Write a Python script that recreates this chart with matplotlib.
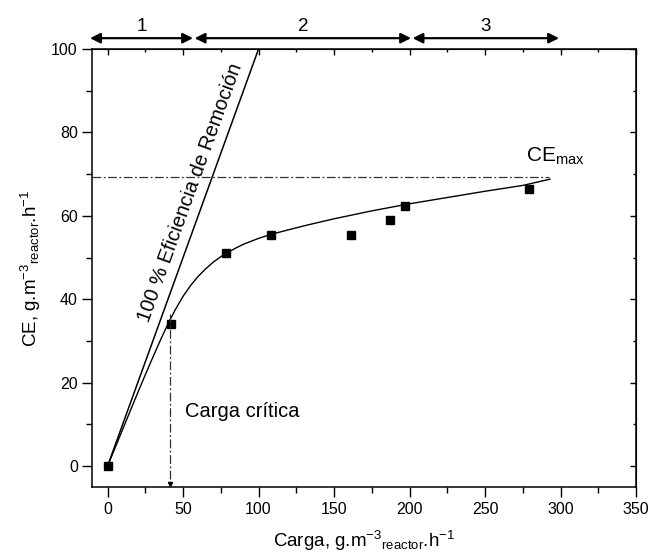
import numpy as np
import matplotlib
matplotlib.use("Agg")
import matplotlib.pyplot as plt

plt.rcParams['font.family'] = ['Liberation Sans', 'DejaVu Sans']
plt.rcParams['mathtext.fontset'] = 'custom'
plt.rcParams['mathtext.rm'] = 'Liberation Sans'
plt.rcParams['mathtext.it'] = 'Liberation Sans:italic'

# measured points
carga = [0, 42.3, 78.7, 108.5, 161, 187, 197, 279]
ce = [0, 34.0, 51.2, 55.4, 55.3, 59.0, 62.4, 66.5]

# fitted curve, read along its path
curva_x = [0, 10, 20, 25, 30, 35, 40, 45, 50, 55, 60, 65, 70, 75, 79, 85, 90, 100,
           108.5, 130, 150, 175, 200, 225, 250, 275, 293]
curva_y = [0, 8.8, 17.6, 21.9, 26.1, 30.2, 34.1, 37.6, 40.7, 43.3, 45.5, 47.3, 48.9, 50.2,
           51.1, 52.3, 53.2, 54.6, 55.6, 57.6, 59.3, 61.2, 62.9, 64.4, 65.9, 67.3, 68.8]

# 100 % removal line
ref_x = [0, 100]
ref_y = [0, 100]

ce_max = 69.4
ce_max_fin = 292.5
carga_critica = 41.2

zonas = [(-11.6, 56.6, '1'), (57.7, 201, '2'), (202, 299, '3')]

fig = plt.figure(figsize=(6.51, 5.59), dpi=100)
ax = fig.add_axes([0.142, 0.1288, 0.835, 0.7835])

ax.plot(ref_x, ref_y, color='k', lw=1.1)
ax.plot(curva_x, curva_y, color='k', lw=1.0)
ax.plot(carga, ce, 's', color='k', ms=6)

dashdot = (0, (7, 2, 1.5, 2))
ax.plot([-10, ce_max_fin], [ce_max, ce_max], color='#333333', lw=0.9, ls=dashdot)
ax.plot([carga_critica, carga_critica], [36.5, -4.5], color='#333333', lw=0.9, ls=dashdot)
ax.plot([carga_critica], [-4.2], marker='v', color='k', ms=3)

ax.text(54.6, 65.5, '100 % Eficiencia de Remoción', rotation=70.1, fontsize=14.5,
        ha='center', va='center', rotation_mode='anchor')
ax.text(51, 13, 'Carga crítica', fontsize=14.5, ha='left', va='center')
ax.text(277, 74.3, r'CE$_{\mathrm{max}}$', fontsize=15, ha='left', va='center')

for x0, x1, lab in zonas:
    ax.annotate('', xy=(x1, 102.6), xytext=(x0, 102.6), annotation_clip=False,
                arrowprops=dict(arrowstyle='<|-|>', color='k', lw=1.6, mutation_scale=15,
                                shrinkA=0, shrinkB=0))
    ax.text((x0 + x1) / 2, 103.4, lab, fontsize=13.5, ha='center', va='bottom')

ax.set_xlim(-10, 350)
ax.set_ylim(-5, 100)
ax.set_xticks(np.arange(0, 351, 50))
ax.set_xticks(np.arange(25, 351, 50), minor=True)
ax.set_yticks(np.arange(0, 101, 20))
ax.set_yticks(np.arange(10, 101, 20), minor=True)
ax.tick_params(which='both', direction='out', labelsize=11.5, width=1.0, top=False, right=False)
ax.tick_params(which='major', length=7)
ax.tick_params(which='minor', length=4)
for s in ax.spines.values():
    s.set_linewidth(1.1)

# inward ticks on the top and right frame
sec_x = ax.secondary_xaxis('top')
sec_x.set_xticks(np.arange(0, 351, 50))
sec_x.set_xticks(np.arange(25, 351, 50), minor=True)
sec_x.tick_params(which='both', direction='in', labeltop=False, width=1.0)
sec_x.tick_params(which='major', length=4)
sec_x.tick_params(which='minor', length=2.5)
sec_y = ax.secondary_yaxis('right')
sec_y.set_yticks(np.arange(0, 101, 20))
sec_y.set_yticks(np.arange(10, 101, 20), minor=True)
sec_y.tick_params(which='both', direction='in', labelright=False, width=1.0)
sec_y.tick_params(which='major', length=4)
sec_y.tick_params(which='minor', length=2.5)

ax.set_xlabel(r'Carga, g.m$^{-3}$$_{\mathrm{reactor}}$.h$^{-1}$', fontsize=13.5, labelpad=9)
ax.set_ylabel(r'CE, g.m$^{-3}$$_{\mathrm{reactor}}$.h$^{-1}$', fontsize=13.5, labelpad=6)

fig.savefig('out.png', dpi=100)
